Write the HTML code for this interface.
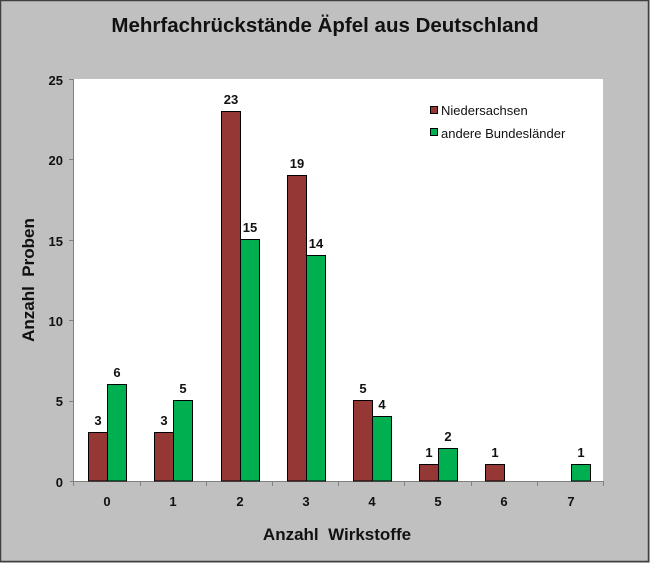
<!DOCTYPE html>
<html><head><meta charset="utf-8"><style>body{margin:0}svg{display:block}text{font-family:"Liberation Sans",Arial,sans-serif}</style></head><body>
<svg width="650" height="563" xmlns="http://www.w3.org/2000/svg">
<rect x="0" y="0" width="650" height="563" fill="#c0c0c0"/>
<rect x="0.5" y="0.5" width="648" height="561" fill="none" stroke="#404040" stroke-width="1.5"/>
<rect x="74" y="79" width="529" height="402" fill="#fff"/>
<text x="325" y="32" font-size="20.5" font-weight="bold" text-anchor="middle" fill="#111">Mehrfachrückstände Äpfel aus Deutschland</text>
<line x1="73.5" y1="79" x2="73.5" y2="482" stroke="#808080"/>
<line x1="70" y1="481.5" x2="604" y2="481.5" stroke="#808080"/>
<g stroke="#808080">
<line x1="69" y1="79.5" x2="74" y2="79.5"/><line x1="69" y1="159.5" x2="74" y2="159.5"/><line x1="69" y1="240.5" x2="74" y2="240.5"/><line x1="69" y1="320.5" x2="74" y2="320.5"/><line x1="69" y1="401.5" x2="74" y2="401.5"/>
<line x1="73.5" y1="481" x2="73.5" y2="486"/><line x1="140.5" y1="481" x2="140.5" y2="486"/><line x1="206.5" y1="481" x2="206.5" y2="486"/><line x1="272.5" y1="481" x2="272.5" y2="486"/><line x1="338.5" y1="481" x2="338.5" y2="486"/><line x1="404.5" y1="481" x2="404.5" y2="486"/><line x1="471.5" y1="481" x2="471.5" y2="486"/><line x1="537.5" y1="481" x2="537.5" y2="486"/><line x1="603.5" y1="481" x2="603.5" y2="486"/>
</g>
<g font-size="13" font-weight="bold" text-anchor="end" fill="#111">
<text x="63" y="85">25</text><text x="63" y="165">20</text><text x="63" y="246">15</text><text x="63" y="326">10</text><text x="63" y="406">5</text><text x="63" y="487">0</text>
</g>
<g font-size="13" font-weight="bold" text-anchor="middle" fill="#111">
<text x="107" y="506">0</text><text x="173" y="506">1</text><text x="240" y="506">2</text><text x="306" y="506">3</text><text x="372" y="506">4</text><text x="438" y="506">5</text><text x="504" y="506">6</text><text x="571" y="506">7</text>
</g>
<text x="337" y="540" font-size="17" font-weight="bold" text-anchor="middle" fill="#111" xml:space="preserve">Anzahl  Wirkstoffe</text>
<text transform="translate(34,280) rotate(-90)" font-size="17" font-weight="bold" text-anchor="middle" fill="#111" xml:space="preserve">Anzahl  Proben</text>
<g stroke="#000" stroke-width="1">
<rect x="88.5" y="432.5" width="19" height="48.5" fill="#953735"/>
<rect x="107.5" y="384.5" width="19" height="96.5" fill="#00b050"/>
<rect x="154.5" y="432.5" width="19" height="48.5" fill="#953735"/>
<rect x="173.5" y="400.5" width="19" height="80.5" fill="#00b050"/>
<rect x="221.5" y="111.5" width="19" height="369.5" fill="#953735"/>
<rect x="240.5" y="239.5" width="19" height="241.5" fill="#00b050"/>
<rect x="287.5" y="175.5" width="19" height="305.5" fill="#953735"/>
<rect x="306.5" y="255.5" width="19" height="225.5" fill="#00b050"/>
<rect x="353.5" y="400.5" width="19" height="80.5" fill="#953735"/>
<rect x="372.5" y="416.5" width="19" height="64.5" fill="#00b050"/>
<rect x="419.5" y="464.5" width="19" height="16.5" fill="#953735"/>
<rect x="438.5" y="448.5" width="19" height="32.5" fill="#00b050"/>
<rect x="485.5" y="464.5" width="19" height="16.5" fill="#953735"/>
<rect x="571.5" y="464.5" width="19" height="16.5" fill="#00b050"/>
</g>
<g font-size="13" font-weight="bold" text-anchor="middle" fill="#111">
<text x="98" y="425">3</text><text x="117" y="377">6</text>
<text x="164" y="425">3</text><text x="183" y="393">5</text>
<text x="231" y="104">23</text><text x="250" y="232">15</text>
<text x="297" y="168">19</text><text x="316" y="248">14</text>
<text x="363" y="393">5</text><text x="382" y="409">4</text>
<text x="429" y="457">1</text><text x="448" y="441">2</text>
<text x="495" y="457">1</text><text x="581" y="457">1</text>
</g>
<rect x="430.5" y="106.5" width="7" height="7" fill="#953735" stroke="#000"/>
<rect x="430.5" y="128.5" width="7" height="7" fill="#00b050" stroke="#000"/>
<g font-size="13" fill="#111"><text x="441" y="115">Niedersachsen</text><text x="441" y="138">andere Bundesländer</text></g>
</svg>
</body></html>
